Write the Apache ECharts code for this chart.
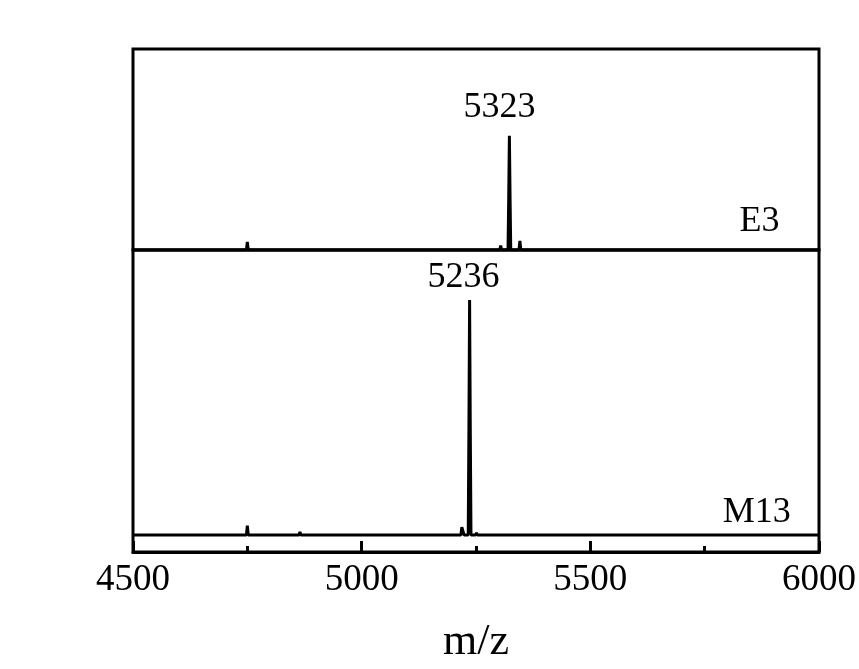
<!DOCTYPE html>
<html>
<head>
<meta charset="utf-8">
<title>MALDI spectra E3 / M13</title>
<script src="https://cdn.jsdelivr.net/npm/echarts@6/dist/echarts.min.js"></script>
<style>
  html, body { margin: 0; padding: 0; background: #fff; }
  #chart { width: 859px; height: 669px; }
</style>
</head>
<body>
<div id="chart"></div>
<script>
// x ticks
const xTicks = [4500, 5000, 5500, 6000];

// E3 spectrum (m/z, relative intensity, main peak = 100)
const e3Mz  = [4500, 4748, 4750, 4752, 4894, 4896, 4898, 5302, 5304, 5306, 5320, 5321.5, 5323, 5324.5, 5326, 5344, 5346, 5348, 5362, 5364, 5366, 6000];
const e3Int = [0,    0,    7,    0,    0,    1.5,  0,    0,    4,    0,    0,    45,     100,  45,     0,    0,    8,    0,    0,    1,    0,    0];

// M13 spectrum
const m13Mz  = [4500, 4748, 4750, 4752, 4863, 4865, 4867, 5195, 5197, 5199, 5217, 5219, 5222, 5224, 5233, 5234.5, 5236, 5237.5, 5239, 5249, 5251, 5253, 5278, 5280, 5282, 5381, 5383, 5385, 6000];
const m13Int = [0,    0,    4,    0,    0,    1.3,  0,    0,    0.6,  0,    0,    3.4,  3,    0,    0,    45,     100,  45,     0,    0,    1,    0,    0,    0.5,  0,    0,    0.5,  0,    0];

const peakLabels = [
  { name: '5323', mz: 5323, value: 100 },
  { name: '5236', mz: 5236, value: 100 }
];
const sampleNames = ['E3', 'M13'];

const font = 'Liberation Serif';

function zip(xs, ys) {
  return xs.map((x, i) => [x, ys[i]]);
}

const chart = echarts.init(document.getElementById('chart'));

let option = {
  backgroundColor: '#fff',
  animation: false,
  grid: [
    { left: 133, right: 40, top: 49, height: 201, show: true, borderColor: '#000', borderWidth: 3, backgroundColor: 'transparent' },
    { left: 133, right: 40, top: 250, bottom: 117, show: true, borderColor: '#000', borderWidth: 3, backgroundColor: 'transparent' }
  ],
  xAxis: [
    { gridIndex: 0, type: 'value', min: 4500, max: 6000, interval: 500, show: false },
    {
      gridIndex: 1, type: 'value', min: 4500, max: 6000, interval: 500,
      name: 'm/z', nameLocation: 'middle', nameGap: 68,
      nameTextStyle: { fontFamily: font, fontSize: 44, color: '#000' },
      axisLine: { show: true, onZero: false, lineStyle: { color: '#000', width: 3 } },
      axisTick: { show: true, inside: true, length: 11, lineStyle: { color: '#000', width: 3 } },
      minorTick: { show: true, splitNumber: 2, length: 6, lineStyle: { color: '#000', width: 3 } },
      splitLine: { show: false },
      axisLabel: {
        fontFamily: font, fontSize: 37, color: '#000', margin: 10,
        formatter: v => xTicks.indexOf(v) >= 0 ? String(v) : ''
      }
    }
  ],
  yAxis: [
    { gridIndex: 0, type: 'value', min: 0, max: 176, show: false },
    { gridIndex: 1, type: 'value', min: -7.2, max: 121.3, show: false }
  ],
  series: [
    {
      name: sampleNames[0],
      type: 'line',
      xAxisIndex: 0, yAxisIndex: 0,
      data: zip(e3Mz, e3Int),
      showSymbol: false,
      lineStyle: { color: '#000', width: 3 },
      markPoint: {
        symbol: 'circle', symbolSize: 0, animation: false,
        label: { show: true, position: 'top', fontFamily: font, fontSize: 36, color: '#000' },
        data: [
          { coord: [peakLabels[0].mz, peakLabels[0].value], value: peakLabels[0].name,
            label: { formatter: peakLabels[0].name, distance: 10, offset: [-10, 0] } },
          { coord: [5870, 0], value: sampleNames[0],
            label: { formatter: sampleNames[0], distance: 10 } }
        ]
      }
    },
    {
      name: sampleNames[1],
      type: 'line',
      xAxisIndex: 1, yAxisIndex: 1,
      data: zip(m13Mz, m13Int),
      showSymbol: false,
      lineStyle: { color: '#000', width: 3 },
      markPoint: {
        symbol: 'circle', symbolSize: 0, animation: false,
        label: { show: true, position: 'top', fontFamily: font, fontSize: 36, color: '#000' },
        data: [
          { coord: [peakLabels[1].mz, peakLabels[1].value], value: peakLabels[1].name,
            label: { formatter: peakLabels[1].name, distance: 5, offset: [-6, 0] } },
          { coord: [5864, 0], value: sampleNames[1],
            label: { formatter: sampleNames[1], distance: 5 } }
        ]
      }
    }
  ]
};

chart.setOption(option);
</script>
</body>
</html>
